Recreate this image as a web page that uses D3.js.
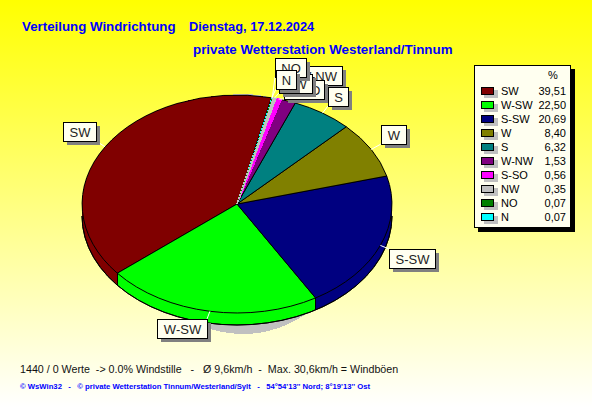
<!DOCTYPE html>
<html><head><meta charset="utf-8">
<script src="https://cdn.jsdelivr.net/npm/d3@7/dist/d3.min.js"></script>
<style>html,body{margin:0;padding:0;overflow:hidden}svg{display:block}text{font-family:"Liberation Sans",Arial,sans-serif}path,rect,ellipse,line{shape-rendering:crispEdges}</style>
</head><body><svg id="c" width="592" height="407"></svg>
<script>
const categories=["SW","W-SW","S-SW","W","S","W-NW","S-SO","NW","NO","N"];
const percent=[39.51,22.50,20.69,8.40,6.32,1.53,0.56,0.35,0.07,0.07];
const labels=["39,51","22,50","20,69","8,40","6,32","1,53","0,56","0,35","0,07","0,07"];
const colors=["#800000","#00ff00","#000080","#808000","#008080","#800080","#ff00ff","#c0c0c0","#008000","#00ffff"];
const labelBoxes=[[63,122,33],[157,319,50],[389,249,46],[381,125,25],[328,87,20],[293,66,49],[284,80,40],[279,74,33],[275,58,31],[276,70,20]];
const labelOrder=[0,1,2,3,5,6,4,7,8,9];
const svg=d3.select("#c");
const defs=svg.append("defs");
const g=defs.append("linearGradient").attr("id","bg").attr("x1",0).attr("x2",0).attr("y1",0).attr("y2",1);
g.append("stop").attr("offset",0).attr("stop-color","#ffff00");
g.append("stop").attr("offset",1).attr("stop-color","#ffffff");
svg.append("rect").attr("width",592).attr("height",407).attr("fill","url(#bg)");
const T="#0000ff";
svg.append("text").attr("x",22).attr("y",31).attr("fill",T).attr("font-size",13.3).attr("font-weight","bold").text("Verteilung Windrichtung");
svg.append("text").attr("x",189).attr("y",31).attr("fill",T).attr("font-size",12.8).attr("font-weight","bold").text("Dienstag, 17.12.2024");
svg.append("text").attr("x",193).attr("y",54).attr("fill",T).attr("font-size",13.35).attr("font-weight","bold").text("private Wetterstation Westerland/Tinnum");
const cx=237,cy=204,rx=155,ry=109,depth=12;
const start=12.8*Math.PI/180;
const pie=d3.pie().sort(null).value(d=>d).startAngle(start).endAngle(start-2*Math.PI);
const arcs=pie(percent);
const arc=d3.arc().innerRadius(0).outerRadius(1);
const tf=(dx,dy)=>`translate(${cx+dx},${cy+dy}) scale(${rx},${ry})`;
// drop shadow under the pie
svg.append("ellipse").attr("cx",243).attr("cy",214).attr("rx",114).attr("ry",120).attr("fill","#c0c0c0");
// side wall
const wall=svg.append("g");
for(let d=depth;d>=1;d--){
 wall.append("g").attr("transform",tf(0,d)).selectAll("path").data(arcs).join("path").attr("d",arc).attr("fill",(a,i)=>colors[i]);
}
const ln=d3.line();
const bottom=d3.arc().innerRadius(1).outerRadius(1).startAngle(Math.PI/2).endAngle(3*Math.PI/2);
svg.append("path").attr("transform",tf(0,depth)).attr("d",bottom()).attr("fill","none").attr("stroke","#000").attr("vector-effect","non-scaling-stroke");
// top face
svg.append("g").attr("transform",tf(0,0)).selectAll("path").data(arcs).join("path").attr("d",arc)
 .attr("fill",(a,i)=>colors[i])
 .attr("stroke",(a,i)=>percent[i]<0.1?"none":percent[i]<1?colors[i]:"#000")
 .attr("stroke-width",(a,i)=>percent[i]<1?1.5:1)
 .attr("vector-effect","non-scaling-stroke");
[arcs[0].endAngle,arcs[1].endAngle].forEach(a=>{
 const x=cx+rx*Math.sin(a),y=cy-ry*Math.cos(a);
 svg.append("path").attr("d",ln([[x,y],[x,y+depth]])).attr("stroke","#000");
});
// legend
const lx=474,ly=65,lw=97,lh=163;
svg.append("rect").attr("x",lx+4).attr("y",ly+4).attr("width",lw).attr("height",lh).attr("fill","#000");
svg.append("rect").attr("x",lx+.5).attr("y",ly+.5).attr("width",lw-1).attr("height",lh-1).attr("fill","#fffff0").attr("stroke","#000");
svg.append("text").attr("x",553).attr("y",79).attr("text-anchor","middle").attr("font-size",11).text("%");
const y=d3.scaleBand().domain(categories).range([84,224]);
const rows=svg.append("g").selectAll("g").data(categories).join("g").attr("transform",d=>`translate(0,${Math.round(y(d))})`);
rows.append("rect").attr("x",484).attr("y",6).attr("width",14).attr("height",8).attr("fill","#c0c0c0");
rows.append("rect").attr("x",481.5).attr("y",3.5).attr("width",12).attr("height",7).attr("fill",(d,i)=>colors[i]).attr("stroke","#000");
rows.append("text").attr("x",501).attr("y",11).attr("font-size",11).text(d=>d);
rows.append("text").attr("x",566).attr("y",11).attr("text-anchor","end").attr("font-size",11).text((d,i)=>labels[i]);
// leaders
const H=19;
arcs.forEach((a,i)=>{
 const m=(a.startAngle+a.endAngle)/2;
 const x=cx+rx*Math.sin(m),y0=cy-ry*Math.cos(m);
 const b=labelBoxes[i];
 const tx=Math.max(b[0],Math.min(b[0]+b[2],x)),ty=Math.max(b[1],Math.min(b[1]+H,y0));
 svg.append("line").attr("x1",x).attr("y1",y0).attr("x2",tx).attr("y2",ty).attr("stroke","#fff").style("shape-rendering","auto");
});
// label boxes
labelOrder.forEach(i=>{
 const b=labelBoxes[i];
 const s=svg.append("g").attr("transform",`translate(${b[0]},${b[1]})`);
 s.append("rect").attr("x",4).attr("y",4).attr("width",b[2]).attr("height",H).attr("fill","#808080");
 s.append("rect").attr("x",.5).attr("y",.5).attr("width",b[2]).attr("height",H).attr("fill","#fffff0").attr("stroke","#000").attr("rx",1);
 s.append("text").attr("x",b[2]/2+.5).attr("y",15).attr("text-anchor","middle").attr("font-size",13).attr("fill","#222").text(categories[i]);
});
svg.append("text").attr("x",20).attr("y",373).attr("font-size",10.7).attr("fill","#111").attr("xml:space","preserve").text("1440 / 0 Werte  -> 0.0% Windstille   -   Ø 9,6km/h  -  Max. 30,6km/h = Windböen");
svg.append("text").attr("x",20).attr("y",389).attr("font-size",7.7).attr("font-weight","bold").attr("fill",T).attr("xml:space","preserve").text("© WsWin32   -   © private Wetterstation Tinnum/Westerland/Sylt   -   54°54'13'' Nord; 8°19'13'' Ost");
</script></body></html>
